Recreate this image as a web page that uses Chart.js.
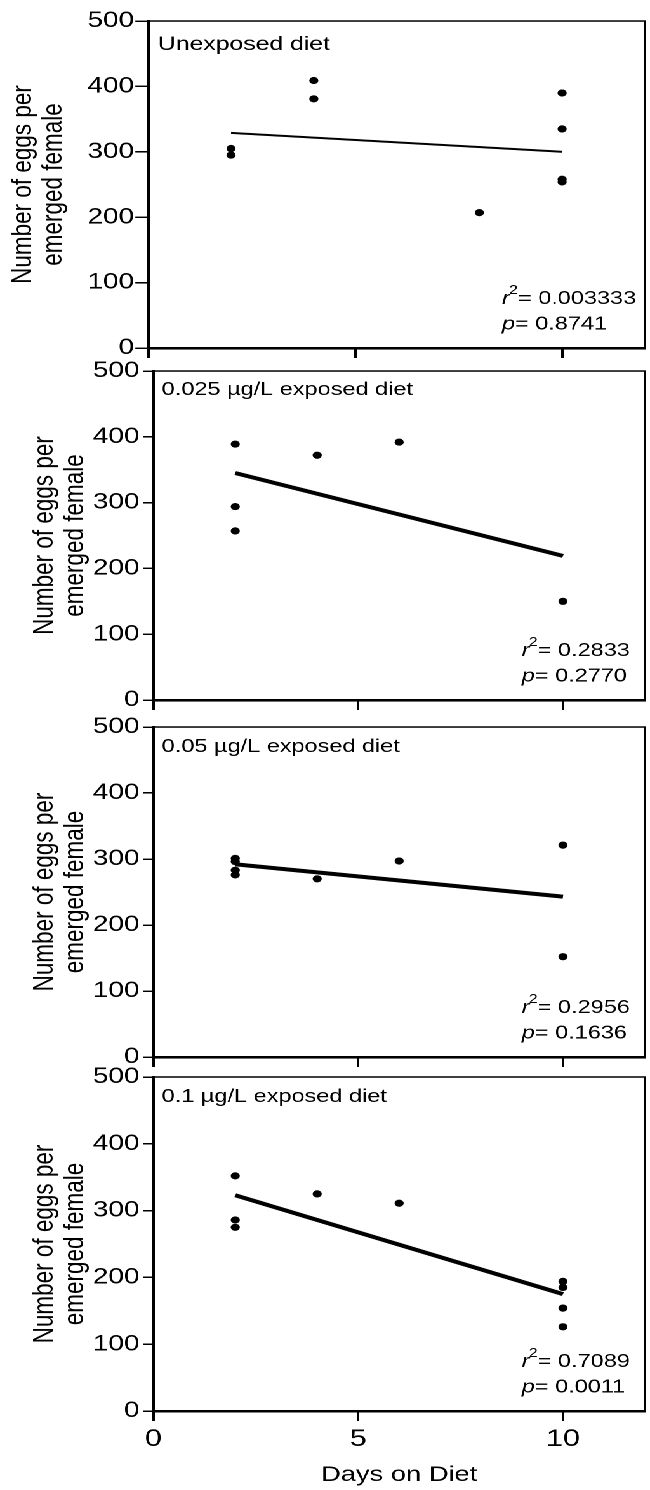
<!DOCTYPE html>
<html>
<head>
<meta charset="utf-8">
<script src="https://cdn.jsdelivr.net/npm/chart.js@4.4.1/dist/chart.umd.min.js"></script>
<style>
  html, body { margin: 0; padding: 0; background: #fff; }
  body { width: 650px; height: 1490px; overflow: hidden; position: relative; }
  /* the source figure is stretched sideways, so the charts are drawn narrow and widened */
  #stretch { position: absolute; left: 0; top: 0; width: 512px; height: 1490px;
             transform: scaleX(1.26953); transform-origin: 0 0; }
  #stretch canvas { position: absolute; left: 0; }
</style>
</head>
<body>
<div id="stretch">
  <canvas id="c1"></canvas>
  <canvas id="c2"></canvas>
  <canvas id="c3"></canvas>
  <canvas id="c4"></canvas>
</div>
<script>
// data
const panelLabels = ["Unexposed diet", "0.025 µg/L exposed diet", "0.05 µg/L exposed diet", "0.1 µg/L exposed diet"];

const days1 = [2, 2, 4, 4, 8, 10, 10, 10, 10];
const eggs1 = [305, 295, 409, 381, 207, 390, 335, 258, 254];

const days2 = [2, 2, 2, 4, 6, 10];
const eggs2 = [389, 294, 257, 372, 392, 150];

const days3 = [2, 2, 2, 2, 4, 6, 10, 10];
const eggs3 = [301, 296, 283, 276, 270, 297, 321, 152];

const days4 = [2, 2, 2, 4, 6, 10, 10, 10, 10];
const eggs4 = [352, 286, 275, 325, 311, 194, 185, 154, 126];

// regression lines, start and end
const fitDays = [2, 10];
const fit1 = [329, 300];
const fit2 = [345, 219];
const fit3 = [292, 243];
const fit4 = [323, 175];

const r2Values = ["0.003333", "0.2833", "0.2956", "0.7089"];
const pValues = ["0.8741", "0.2770", "0.1636", "0.0011"];

const xTickStep = 5;
const yTickStep = 100;

const FONT = '"Liberation Sans", Arial, Helvetica, sans-serif';
Chart.defaults.font.family = FONT;
Chart.defaults.color = "#000";

function drawStat(ctx, x, y, sym, sup, val) {
  ctx.font = "italic 18.5px " + FONT;
  ctx.fillText(sym, x, y);
  let w = ctx.measureText(sym).width;
  if (sup) {
    ctx.font = "12.5px " + FONT;
    ctx.fillText(sup, x + w - 0.5, y - 10);
    w += ctx.measureText(sup).width - 0.5;
  }
  ctx.font = "18.5px " + FONT;
  ctx.fillText("= " + val, x + w, y);
}

// panel label, r2 / p text and the top + right frame
const panelText = {
  id: "panelText",
  afterDatasetsDraw(chart, args, opts) {
    const { ctx, chartArea } = chart;
    ctx.save();
    ctx.fillStyle = "#000";
    ctx.textAlign = "left";
    ctx.textBaseline = "alphabetic";
    ctx.font = opts.labelSize + "px " + FONT;
    ctx.fillText(opts.label, chartArea.left + opts.labelDx, chartArea.top + opts.labelY);
    drawStat(ctx, opts.statsX, chartArea.bottom - 44, "r", "2", opts.r2);
    drawStat(ctx, opts.statsX, chartArea.bottom - 18.5, "p", "", opts.p);
    ctx.strokeStyle = "#000";
    ctx.lineWidth = 1.4;
    ctx.beginPath();
    ctx.moveTo(chartArea.left, chartArea.top);
    ctx.lineTo(chartArea.right, chartArea.top);
    ctx.lineTo(chartArea.right, chartArea.bottom);
    ctx.stroke();
    ctx.restore();
  },
};
Chart.register(panelText);

const layouts = [
  { id: "c1", top: 1, height: 369, left: 116.8, xH: 12, padBottom: 10, tickLen: 10.2, tickPad: 1, titlePad: 6.6, labelDx: 7.6, labelY: 29, labelSize: 19.5, statsX: 395.4, fitWidth: 2, showX: false },
  { id: "c2", top: 351, height: 371, left: 120.8, xH: 12, padBottom: 10, tickLen: 8, tickPad: 3, titlePad: 23.3, labelDx: 6.6, labelY: 24, labelSize: 18.5, statsX: 411, fitWidth: 4, showX: false },
  { id: "c3", top: 707, height: 372, left: 120.8, xH: 12, padBottom: 10, tickLen: 8, tickPad: 3, titlePad: 23.3, labelDx: 6.6, labelY: 25, labelSize: 18.5, statsX: 411, fitWidth: 4, showX: false },
  { id: "c4", top: 1057, height: 433, left: 120.8, xH: 79, padBottom: 0, tickLen: 8, tickPad: 3, titlePad: 23.3, labelDx: 6.6, labelY: 25, labelSize: 18.5, statsX: 411, fitWidth: 4, showX: true },
];

function makeChart(p, days, eggs, fit, label, r2, pv) {
  const canvas = document.getElementById(p.id);
  canvas.width = 512;
  canvas.height = p.height;
  canvas.style.top = p.top + "px";
  return new Chart(canvas, {
    type: "scatter",
    data: {
      datasets: [
        {
          data: days.map((d, i) => ({ x: d, y: eggs[i] })),
          pointRadius: 3.6,
          pointBackgroundColor: "#000",
          pointBorderWidth: 0,
          showLine: false,
        },
        {
          data: fitDays.map((d, i) => ({ x: d, y: fit[i] })),
          showLine: true,
          borderColor: "#000",
          borderWidth: p.fitWidth,
          pointRadius: 0,
        },
      ],
    },
    options: {
      responsive: false,
      animation: false,
      devicePixelRatio: 2,
      layout: { padding: { top: 20, right: 1, bottom: p.padBottom, left: 0 } },
      plugins: {
        legend: { display: false },
        tooltip: { enabled: false },
        panelText: { label: label, r2: r2, p: pv, labelDx: p.labelDx, labelY: p.labelY, labelSize: p.labelSize, statsX: p.statsX },
      },
      scales: {
        x: {
          type: "linear",
          min: 0,
          max: 12,
          afterFit: (s) => { s.height = p.xH; },
          ticks: { display: p.showX, stepSize: xTickStep, includeBounds: false, padding: 4, font: { size: 24 }, maxRotation: 0 },
          grid: { drawOnChartArea: false, drawTicks: true, tickLength: 10, color: "#000", lineWidth: 2 },
          border: { color: "#000", width: 2.5 },
          title: { display: p.showX, text: "Days on Diet", font: { size: 21.5 }, padding: { top: 0, bottom: 2 } },
        },
        y: {
          min: 0,
          max: 500,
          afterFit: (s) => { s.width = p.left; },
          ticks: { stepSize: yTickStep, padding: p.tickPad, font: { size: 22 } },
          grid: { drawOnChartArea: false, drawTicks: true, tickLength: p.tickLen, color: "#000", lineWidth: 1.5 },
          border: { color: "#000", width: 2 },
          title: {
            display: true,
            text: ["Number of eggs per", "emerged female"],
            font: { size: 22.5, lineHeight: 1.06 },
            padding: { top: p.titlePad, bottom: 0 },
          },
        },
      },
    },
  });
}

makeChart(layouts[0], days1, eggs1, fit1, panelLabels[0], r2Values[0], pValues[0]);
makeChart(layouts[1], days2, eggs2, fit2, panelLabels[1], r2Values[1], pValues[1]);
makeChart(layouts[2], days3, eggs3, fit3, panelLabels[2], r2Values[2], pValues[2]);
makeChart(layouts[3], days4, eggs4, fit4, panelLabels[3], r2Values[3], pValues[3]);
</script>
</body>
</html>
